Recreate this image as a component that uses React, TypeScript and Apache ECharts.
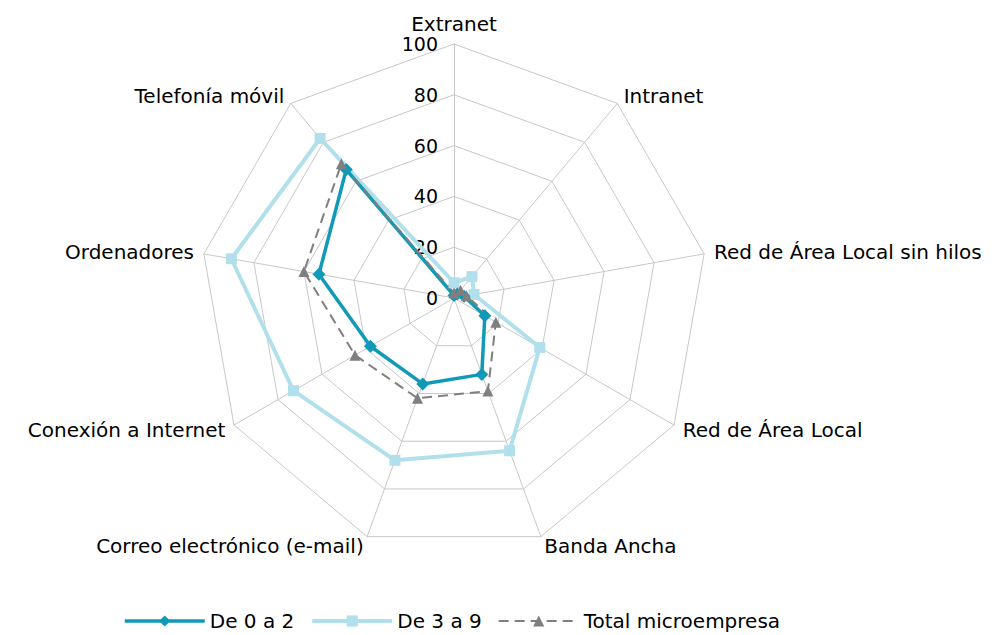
import React, { useEffect, useRef } from 'react';
import * as echarts from 'echarts';

// Indicators listed clockwise from the top, as in the reference
const indicators = [
  'Extranet',
  'Intranet',
  'Red de Área Local sin hilos',
  'Red de Área Local',
  'Banda Ancha',
  'Correo electrónico (e-mail)',
  'Conexión a Internet',
  'Ordenadores',
  'Telefonía móvil',
];
const seriesNames = ['De 0 a 2', 'De 3 a 9', 'Total microempresa'];
const de0a2 = [1, 2, 4, 14, 32, 36, 38, 54, 66];
const de3a9 = [6, 11, 8, 39, 64, 68, 73, 89, 82];
const totalMicro = [2, 4, 5, 19, 39, 42, 45, 60, 69];
const axisMin = 0;
const axisMax = 100;

const FONT = 'DejaVu Sans';
const TEAL = '#1199b8';
const LIGHT = '#b1e0ec';
const GREY = '#7f7f7f';

// ECharts radar lays indicators out counter-clockwise: keep first, reverse the rest
function toCCW<T>(a: T[]): T[] {
  return [a[0], ...a.slice(1).reverse()];
}

export default function App() {
  const ref = useRef<HTMLDivElement>(null);
  useEffect(() => {
    if (!ref.current) return;
    const chart = echarts.init(ref.current, undefined, { renderer: 'svg' });
    const styles = [
      { name: seriesNames[0], values: de0a2, color: TEAL, symbol: 'diamond', size: 13, width: 3.5, type: 'solid' as const },
      { name: seriesNames[1], values: de3a9, color: LIGHT, symbol: 'rect', size: 11, width: 4, type: 'solid' as const },
      { name: seriesNames[2], values: totalMicro, color: GREY, symbol: 'triangle', size: 11, width: 2, type: [10, 6] as any },
    ];
    const drawOrder = [1, 0, 2];
    chart.setOption({
      animation: false,
      backgroundColor: '#ffffff',
      grid: { left: 0, top: 0, width: 10, height: 10, show: false },
      xAxis: { type: 'category', show: false, data: [] },
      yAxis: { type: 'value', show: false },
      legend: {
        data: styles.map((s) => ({ name: s.name, lineStyle: { width: s.width, type: s.type, color: s.color } })),
        left: 118,
        top: 606,
        itemWidth: 80,
        itemHeight: 14,
        itemGap: 16,
        textStyle: { fontSize: 20, color: '#000', fontFamily: FONT },
      },
      radar: {
        center: [454, 298],
        radius: 254,
        startAngle: 90,
        shape: 'polygon',
        splitNumber: 5,
        nameGap: 10,
        axisName: { color: '#000', fontSize: 20, fontFamily: FONT },
        splitLine: { lineStyle: { color: '#c8c8c8', width: 1 } },
        splitArea: { show: false },
        axisLine: { lineStyle: { color: '#c8c8c8', width: 1 } },
        axisTick: { show: false },
        axisLabel: { show: false },
        indicator: toCCW(indicators).map((name, i) =>
          i === 0
            ? {
                name,
                min: axisMin,
                max: axisMax,
                axisLabel: { show: true, fontSize: 19, color: '#000', fontFamily: FONT, margin: 16 },
              }
            : { name, min: axisMin, max: axisMax }
        ),
      },
      series: [
        ...styles.map((s) => ({
          type: 'line',
          name: s.name,
          data: [],
          symbol: s.symbol,
          itemStyle: { color: s.color },
          lineStyle: { color: s.color, width: s.width, type: s.type },
        })),
        {
          type: 'radar',
          data: drawOrder.map((k) => {
            const s = styles[k];
            return {
              name: s.name,
              value: toCCW(s.values),
              symbol: s.symbol,
              symbolSize: s.size,
              itemStyle: { color: s.color },
              lineStyle: { color: s.color, width: s.width, type: s.type },
            };
          }),
        },
      ],
    });
    return () => chart.dispose();
  }, []);
  return (
    <div
      ref={ref}
      style={{ position: 'fixed', left: 0, top: 0, width: 1000, height: 635, background: '#fff' }}
    />
  );
}
